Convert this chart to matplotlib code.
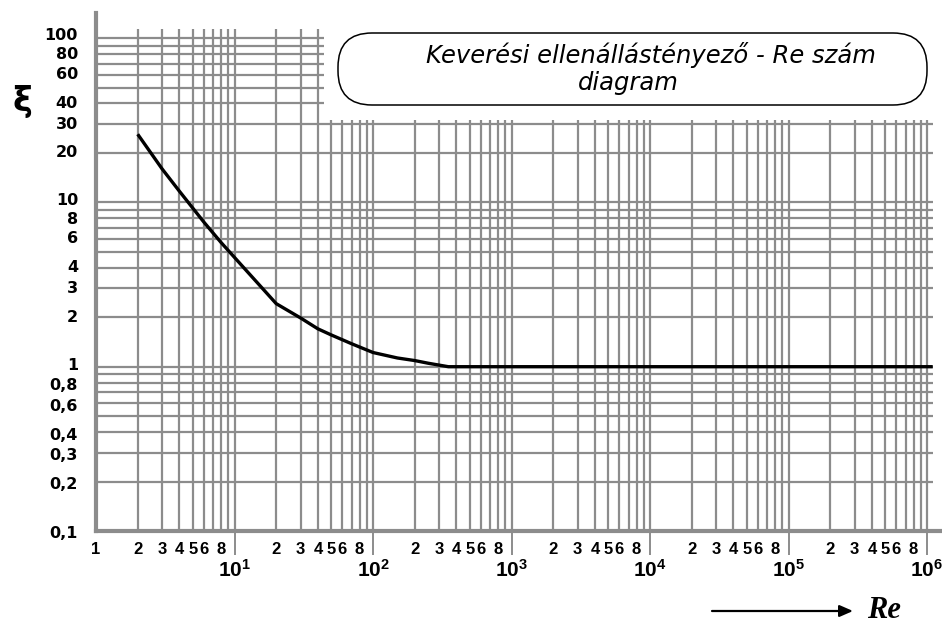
import matplotlib
matplotlib.use("Agg")
import matplotlib.pyplot as plt
from matplotlib.patches import FancyBboxPatch
from matplotlib.ticker import NullFormatter, NullLocator
from matplotlib.transforms import blended_transform_factory, offset_copy

plt.rcParams['mathtext.fontset'] = 'custom'
plt.rcParams['mathtext.rm'] = 'Liberation Sans:bold'
plt.rcParams['mathtext.bf'] = 'Liberation Sans:bold'
plt.rcParams['mathtext.it'] = 'Liberation Sans:bold'
plt.rcParams['mathtext.default'] = 'bf'

# ---- data ----
re_vals = [2, 3, 4, 6, 8, 12, 20, 30, 40, 50, 70, 100, 150, 200, 250, 350, 1.1e6]
xi_vals = [26, 16, 11.7, 7.6, 5.7, 3.9, 2.42, 1.98, 1.7, 1.56, 1.38, 1.22, 1.13, 1.09, 1.05, 1.0, 1.0]

y_tick_vals = [100, 80, 60, 40, 30, 20, 10, 8, 6, 4, 3, 2, 1, 0.8, 0.6, 0.4, 0.3, 0.2, 0.1]
y_tick_labels = ['100', '80', '60', '40', '30', '20', '10', '8', '6', '4', '3', '2', '1',
                 '0,8', '0,6', '0,4', '0,3', '0,2', '0,1']
decade_exps = [1, 2, 3, 4, 5, 6]
minor_mults = [2, 3, 4, 5, 6, 8]
title_line1 = 'Keverési ellenállástényező - Re szám'
title_line2 = 'diagram'

GRID = '#8c8c8c'

fig = plt.figure(figsize=(9.42, 6.24), dpi=100)
ax = fig.add_axes([96 / 942, (624 - 531) / 624, (942 - 96) / 942, (531 - 13) / 624])
ax.set_xscale('log')
ax.set_yscale('log')
ax.set_xlim(1, 10 ** (846 / 138.5))
ax.set_ylim(0.1, 10 ** (518 / 164.3 - 1))

# grid
x_grid = [m * 10 ** k for k in range(0, 6) for m in range(2, 10)] + [10 ** k for k in range(1, 7)]
for v in x_grid:
    top = 113 if v <= 40 else 31.6
    ax.vlines(v, 0.1, top, color=GRID, lw=1.6, zorder=1)
y_grid = [m * 10 ** k for k in (-1, 0, 1) for m in range(1, 10)] + [100]
for v in y_grid:
    if v <= 0.1:
        continue
    right = 1.1e6 if v <= 30 else 44
    ax.hlines(v, 1, right, color=GRID, lw=1.6, zorder=1)

# curve
ax.plot(re_vals, xi_vals, color='black', lw=2.4, zorder=3, solid_capstyle='butt',
        solid_joinstyle='round')

# spines
for s in ('top', 'right'):
    ax.spines[s].set_visible(False)
for s in ('left', 'bottom'):
    ax.spines[s].set_color(GRID)
    ax.spines[s].set_linewidth(3)

# y tick labels drawn as texts (allows small vertical nudges like the reference)
ax.yaxis.set_major_locator(NullLocator())
ax.yaxis.set_minor_locator(NullLocator())
ax.yaxis.set_minor_formatter(NullFormatter())
ylab_trans = blended_transform_factory(ax.transAxes, ax.transData)
for v, lab in zip(y_tick_vals, y_tick_labels):
    if v >= 100:
        dy = 3
    elif v == 10:
        dy = 2
    elif v == 8:
        dy = -1
    elif v == 1:
        dy = 1
    elif v < 1:
        dy = -3
    else:
        dy = 0
    tr = offset_copy(ylab_trans, fig=fig, x=-18, y=dy, units='dots')
    ax.text(0, v, lab, transform=tr, ha='right', va='center', fontsize=11.5,
            fontweight='bold', fontfamily='DejaVu Sans')

# x ticks
major_pos = [10 ** e for e in decade_exps]
ax.set_xticks(major_pos)
ax.set_xticklabels([r'$10^{%d}$' % e for e in decade_exps])
minor_pos = [1] + [m * 10 ** k for k in range(0, 6) for m in minor_mults]
minor_lab = ['1'] + [str(m) for k in range(0, 6) for m in minor_mults]
ax.set_xticks(minor_pos, minor=True)
ax.set_xticklabels(minor_lab, minor=True)
ax.tick_params(axis='x', which='major', length=17, width=1.4, color=GRID, pad=3, labelsize=15)
ax.tick_params(axis='x', which='minor', length=0, pad=8, labelsize=12)
for t in ax.get_xticklabels(minor=True):
    t.set_fontfamily('Liberation Sans')
    t.set_fontweight('bold')

# overlay for decorations (pixel coordinates)
ov = fig.add_axes([0, 0, 1, 1], zorder=5)
ov.set_xlim(0, 942)
ov.set_ylim(624, 0)
ov.axis('off')
ov.patch.set_alpha(0)

box = FancyBboxPatch((338, 33), 589, 72, boxstyle='round,pad=0,rounding_size=34',
                     facecolor='white', edgecolor='black', lw=1.1)
ov.add_patch(box)
ov.text(651, 63, title_line1, ha='center', va='baseline', fontsize=17.5,
        fontstyle='italic', fontfamily='DejaVu Sans')
ov.text(628, 90, title_line2, ha='center', va='baseline', fontsize=17.5,
        fontstyle='italic', fontfamily='DejaVu Sans')

ov.text(22, 101, 'ξ', ha='center', va='center', fontsize=24, fontweight='bold',
        fontfamily='DejaVu Sans')

ov.annotate('', xy=(853, 611), xytext=(712, 611),
            arrowprops=dict(arrowstyle='-|>,head_length=0.8,head_width=0.35',
                            color='black', lw=1.6, shrinkA=0, shrinkB=0))
ov.text(867, 618, 'Re', ha='left', va='baseline', fontsize=22, fontweight='bold',
        fontstyle='italic', fontfamily='Liberation Serif')

fig.savefig('out.png', dpi=100)
